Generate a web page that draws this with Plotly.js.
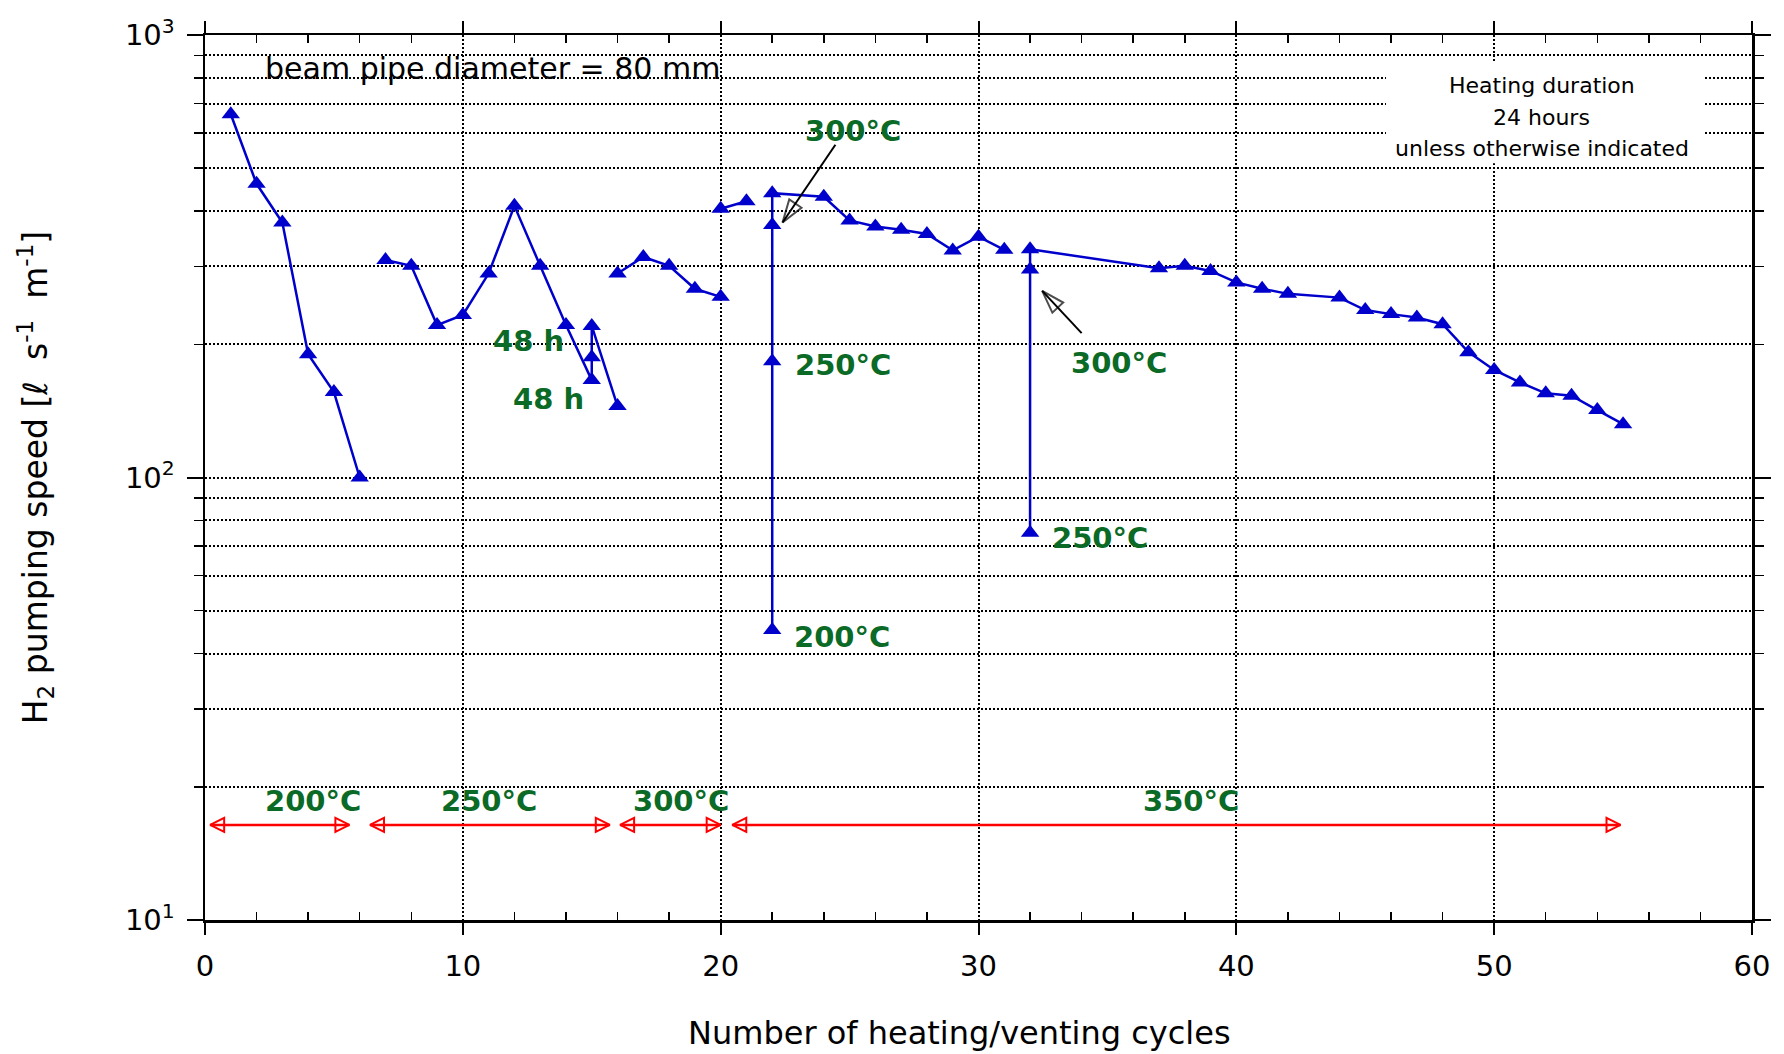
<!DOCTYPE html>
<html>
<head>
<meta charset="utf-8">
<script src="https://cdn.plot.ly/plotly-3.0.1.min.js"></script>
<style>html,body{margin:0;padding:0;background:#fff;}</style>
</head>
<body>
<div id="chart" style="width:1784px;height:1054px;"></div>
<script>
// H2 pumping speed after each heating/venting cycle, one array pair per joined run
const runA_cycle = [1, 2, 3, 4, 5, 6];
const runA_speed = [662, 461, 377, 190, 156, 100];
const runB_cycle = [7, 8, 9, 10, 11, 12, 13, 14, 15, 15, 15, 16];
const runB_speed = [310, 301, 221, 233, 289, 411, 301, 221, 166, 187, 220, 145];
const runC_cycle = [16, 17, 18, 19, 20];
const runC_speed = [289, 315, 301, 267, 256];
const runD_cycle = [20, 21];
const runD_speed = [405, 421];
const runE_cycle = [22, 22, 22, 22, 24, 25, 26, 27, 28, 29, 30, 31];
const runE_speed = [45.2, 183, 372, 439, 431, 381, 369, 363, 355, 326, 350, 327];
const runF_cycle = [32, 32, 32, 37, 38, 39, 40, 41, 42, 44, 45, 46, 47, 48, 49, 50, 51, 52, 53, 54, 55];
const runF_speed = [75, 295, 328, 297, 301, 293, 276, 267, 260, 255, 239, 234, 230, 222, 192, 175, 164, 155, 153, 142, 132];

// Bake-out temperature of each group of cycles
const bakeTemps = ['200°C', '250°C', '300°C', '350°C'];
const bakeFrom = [0.2, 6.4, 16.1, 20.45];
const bakeTo = [5.6, 15.7, 20.0, 54.9];

// Tick labels
const xTickVals = [0, 10, 20, 30, 40, 50, 60];
const yTickVals = [10, 100, 1000];
const yTickText = ['10<sup>1</sup>', '10<sup>2</sup>', '10<sup>3</sup>'];

const BLUE = '#0000cc';
const GREEN = '#0a6a26';
const RED = '#ff0000';
const lg = Math.log10;

const xMinor = [];
for (let v = 2; v < 60; v += 2) if (v % 10 !== 0) xMinor.push(v);
const yMinor = [];
[10, 100].forEach(d => { for (let k = 2; k <= 9; k++) yMinor.push(k * d); });

const runs = [
  [runA_cycle, runA_speed], [runB_cycle, runB_speed], [runC_cycle, runC_speed],
  [runD_cycle, runD_speed], [runE_cycle, runE_speed], [runF_cycle, runF_speed]
];

const traces = runs.map(([x, y]) => ({
  type: 'scatter', mode: 'lines+markers', x: x, y: y,
  line: {color: BLUE, width: 2.5},
  marker: {symbol: 'triangle-up', size: 16, color: BLUE},
  hoverinfo: 'x+y', showlegend: false
}));

// red double-headed arrows marking the bake-out periods
const BAKE_LEVEL = 16.4;
bakeTemps.forEach((t, i) => {
  traces.push({
    type: 'scatter', mode: 'lines+markers',
    x: [bakeFrom[i], bakeTo[i]], y: [BAKE_LEVEL, BAKE_LEVEL],
    line: {color: RED, width: 2.5},
    marker: {symbol: ['arrow-left-open', 'arrow-right-open'], size: 14, color: RED,
             line: {color: RED, width: 2}},
    hoverinfo: 'skip', showlegend: false
  });
});

// black pointer arrows
const pointers = [
  {tail: [24.45, 565], head: [22.4, 377]},
  {tail: [34.0, 212], head: [32.47, 264]}
];
pointers.forEach(p => {
  traces.push({
    type: 'scatter', mode: 'lines+markers',
    x: [p.tail[0], p.head[0]], y: [p.tail[1], p.head[1]],
    line: {color: '#000', width: 2},
    marker: {symbol: ['circle', 'arrow-open'], size: [0, 24], angleref: 'previous',
             color: '#000', line: {color: '#000', width: 2}},
    hoverinfo: 'skip', showlegend: false
  });
});

const greenFont = {family: 'DejaVu Sans, sans-serif', size: 29, color: GREEN, weight: 'bold'};
const greenLabels = [
  ['300°C', 25.15, 608], ['48 h', 12.53, 203.5], ['48 h', 13.32, 150.4],
  ['250°C', 24.76, 179.6], ['200°C', 24.7, 43.7], ['300°C', 35.43, 181.2],
  ['250°C', 34.72, 73.0]
];
const annotations = greenLabels.map(([t, x, y]) => ({
  x: x, y: lg(y), xref: 'x', yref: 'y', text: t, showarrow: false,
  xanchor: 'center', yanchor: 'middle', font: greenFont
}));
const bakeLabelX = [4.2, 11.0, 18.45, 38.25];
bakeTemps.forEach((t, i) => annotations.push({
  x: bakeLabelX[i], y: lg(18.6), xref: 'x', yref: 'y', text: t, showarrow: false,
  xanchor: 'center', yanchor: 'middle', font: greenFont
}));

annotations.push({
  x: 11.15, y: lg(842), xref: 'x', yref: 'y', text: 'beam pipe diameter = 80 mm',
  showarrow: false, xanchor: 'center', yanchor: 'middle',
  font: {family: 'DejaVu Sans, sans-serif', size: 30, color: '#000'}
});
['Heating duration', '24 hours', 'unless otherwise indicated'].forEach((t, i) => {
  annotations.push({
    x: 0.864, y: [0.9432, 0.9071, 0.8712][i], xref: 'paper', yref: 'paper', text: t,
    showarrow: false, xanchor: 'center', yanchor: 'middle',
    font: {family: 'DejaVu Sans, sans-serif', size: 22, color: '#000'}
  });
});

// x-axis caption, set slightly left of the plot centre
annotations.push({
  x: 0.488, y: -0.128, xref: 'paper', yref: 'paper', text: 'Number of heating/venting cycles',
  showarrow: false, xanchor: 'center', yanchor: 'middle',
  font: {family: 'DejaVu Sans, sans-serif', size: 32, color: '#000'}
});

const gridStyle = {gridcolor: '#000', gridwidth: 2, griddash: '2px,2px'};

const layout = {
  width: 1784, height: 1054,
  margin: {l: 205, r: 32, t: 35, b: 134},
  paper_bgcolor: '#fff', plot_bgcolor: '#fff',
  font: {family: 'DejaVu Sans, sans-serif', color: '#000'},
  showlegend: false,
  xaxis: Object.assign({
    range: [0, 60], tickmode: 'array', tickvals: xTickVals,
    ticks: 'outside', ticklen: 12, tickwidth: 2, tickcolor: '#000',
    showline: true, linecolor: '#000', linewidth: 2.5, mirror: 'allticks',
    showgrid: true, zeroline: false,
    tickfont: {size: 29}, ticklabelstandoff: 7,
    minor: {tickmode: 'array', tickvals: xMinor, ticks: 'inside', ticklen: 8,
            tickwidth: 1.5, tickcolor: '#000', showgrid: false}
  }, gridStyle),
  yaxis: Object.assign({
    type: 'log', range: [1, 3], tickmode: 'array', tickvals: yTickVals, ticktext: yTickText,
    ticks: 'outside', ticklen: 16, tickwidth: 2, tickcolor: '#000',
    showline: true, linecolor: '#000', linewidth: 2.5, mirror: 'allticks',
    showgrid: true, zeroline: false,
    tickfont: {size: 29}, ticklabelstandoff: 6,
    minor: Object.assign({tickmode: 'array', tickvals: yMinor, ticks: 'outside', ticklen: 9,
            tickwidth: 1.5, tickcolor: '#000', showgrid: true}, gridStyle),
    title: {text: 'H<sub>2</sub> pumping speed [ℓ\u00a0 s<sup>-1</sup>\u00a0 m<sup>-1</sup>]',
            font: {size: 33}, standoff: 68}
  }, gridStyle),
  shapes: [{
    type: 'rect', xref: 'paper', yref: 'paper', x0: 0.7634, x1: 0.969, y0: 0.855, y1: 0.9695,
    fillcolor: '#fff', line: {width: 0}, layer: 'above'
  }],
  annotations: annotations
};

Plotly.newPlot('chart', traces, layout, {displayModeBar: false, staticPlot: true});
</script>
</body>
</html>
